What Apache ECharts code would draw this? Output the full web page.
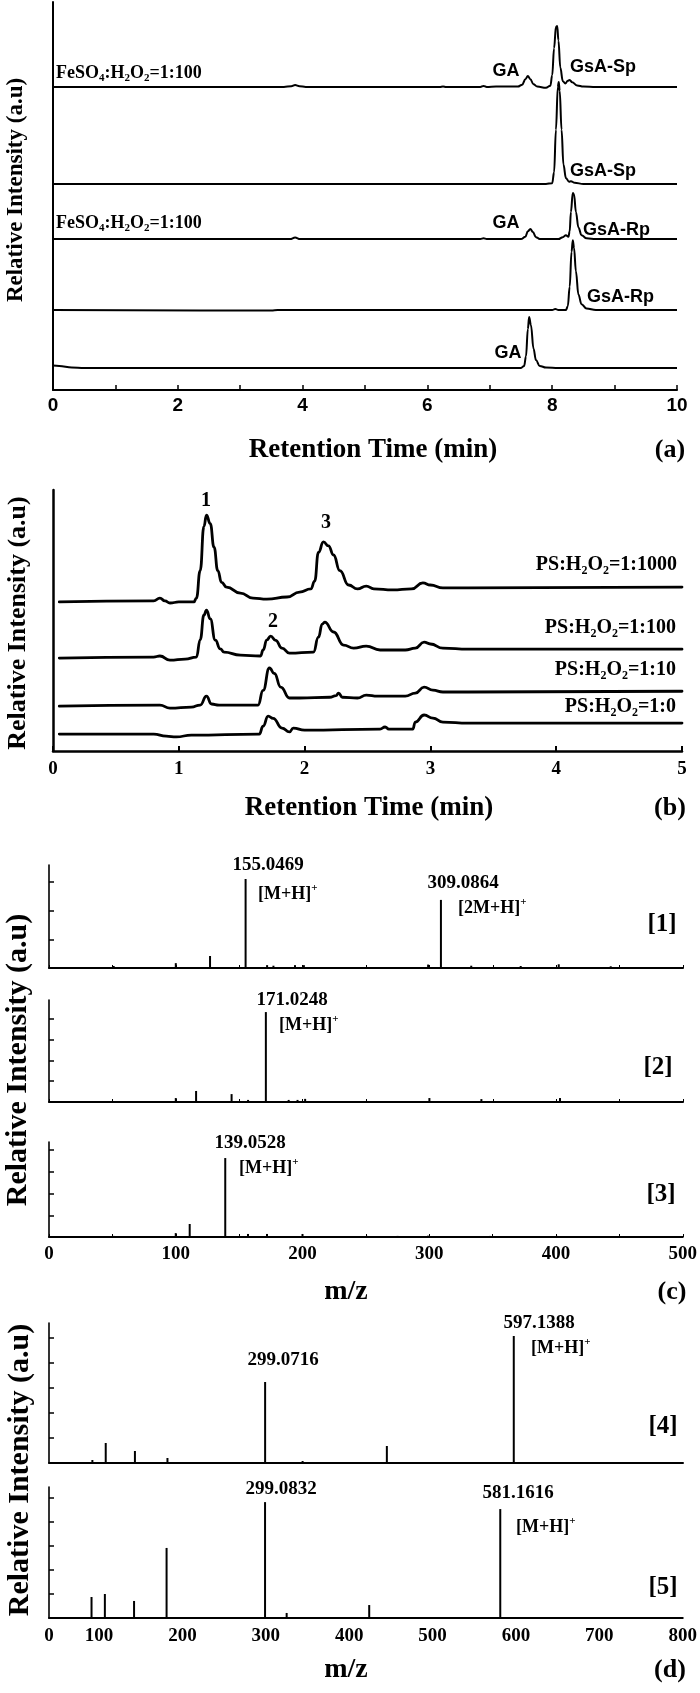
<!DOCTYPE html>
<html><head><meta charset="utf-8">
<script src="https://cdn.jsdelivr.net/npm/echarts@6/dist/echarts.min.js"></script>
<style>html,body{margin:0;padding:0;background:#fff}#c{width:700px;height:1693px}</style>
</head><body><div id="c"></div>
<script>
// ---------- Panel (a): chromatograms, [time(min), intensity above own baseline]
const aOffsets = [78.1, 53.1, 38.9, 20.6, 5.7];
const aTrace1 = [[0,0],[3.7,0],[3.82,0.2],[3.88,0.5],[3.95,0.2],[4.05,0],[6.2,0],[6.25,0.15],[6.3,0],[6.85,0],[6.9,0.25],[6.95,0],[7.1,0.1],[7.45,0.1],[7.52,0.6],[7.57,2.0],[7.61,2.8],[7.65,2.0],[7.7,0.7],[7.76,0.1],[7.9,-0.2],[7.97,0.3],[8.0,3],[8.03,10],[8.06,15.5],[8.08,15.7],[8.1,12],[8.13,5],[8.17,1.5],[8.21,0.9],[8.25,1.6],[8.28,1.8],[8.32,1.2],[8.4,0.4],[8.5,0.1],[8.7,0],[10,0]];
const aTrace2 = [[0,0],[7.9,0],[8.0,0.2],[8.03,3],[8.06,14],[8.09,25],[8.105,26.3],[8.12,24],[8.15,14],[8.18,5],[8.22,1.5],[8.27,0.6],[8.3,0.7],[8.36,0.3],[8.5,0],[10,0]];
const aTrace3 = [[0,0],[3.8,0],[3.88,0.4],[3.96,0],[6.85,0],[6.9,0.2],[6.95,0],[7.5,0],[7.57,0.6],[7.61,2],[7.65,2.6],[7.69,1.8],[7.74,0.5],[7.8,0],[8.1,0],[8.17,0.5],[8.22,1.0],[8.26,0.6],[8.28,2],[8.3,7],[8.33,11.9],[8.35,11.5],[8.38,7],[8.42,3],[8.47,1],[8.55,0.2],[8.7,0],[10,0]];
const aTrace4 = [[0,0],[3.5,-0.1],[3.6,0],[8.0,0],[8.05,0.3],[8.1,0],[8.22,0],[8.25,1],[8.28,6],[8.31,15],[8.33,18],[8.35,16],[8.38,10],[8.42,4],[8.47,1.5],[8.55,0.4],[8.7,0],[10,0]];
const aTrace5 = [[0,0.6],[0.1,0.5],[0.3,0.1],[0.5,0],[7.5,0],[7.55,0.5],[7.58,3],[7.61,10],[7.63,13.1],[7.66,11],[7.7,5],[7.74,2],[7.8,0.5],[7.9,0.1],[8.1,0],[10,0]];
const aTicks = [0,2,4,6,8,10];

// ---------- Panel (b)
const bOffsets = [57.1, 35.6, 17.2, 6.5];
const bTraceA = [[0.05,0],[0.8,0.4],[0.85,1.5],[0.89,0.4],[0.93,-0.4],[1.0,0],[1.12,0],[1.14,1.5],[1.17,12],[1.2,29],[1.22,33.3],[1.25,30],[1.28,21],[1.31,12],[1.34,7.5],[1.38,5.7],[1.49,3.4],[1.59,1.5],[1.7,1.1],[1.86,1.9],[1.96,3.8],[2.05,5.0],[2.08,8],[2.11,19],[2.15,23],[2.19,21.5],[2.23,18],[2.28,12],[2.35,6.5],[2.42,5.0],[2.49,6.1],[2.55,5.0],[2.7,4.6],[2.85,5.0],[2.94,7.3],[3.0,6.5],[3.1,5.4],[3.3,5.4],[5.0,5.7]];
const bTraceB = [[0.05,0],[0.8,0.4],[0.85,0.8],[0.93,-0.8],[1.05,-0.4],[1.14,0.4],[1.17,7],[1.2,16.5],[1.22,18.4],[1.25,15],[1.29,6.9],[1.33,3.5],[1.36,2.3],[1.49,1.1],[1.65,0.8],[1.67,3.1],[1.7,7],[1.73,8.4],[1.77,6.8],[1.82,3.8],[1.88,1.9],[2.07,2.3],[2.11,8],[2.14,13],[2.16,13.8],[2.23,10],[2.31,5],[2.39,3.8],[2.49,4.6],[2.6,3.1],[2.8,3.1],[2.88,3.8],[2.95,6.1],[3.0,5.4],[3.1,3.8],[3.3,3.4],[5.0,3.4]];
const bTraceC = [[0.05,0],[0.85,0.4],[0.93,-0.8],[1.1,-0.4],[1.17,0.4],[1.22,3.8],[1.26,0.8],[1.32,0.4],[1.63,0.4],[1.67,6],[1.72,14.6],[1.76,12.5],[1.81,7.3],[1.88,3.1],[1.96,3.1],[2.2,3.4],[2.25,4.0],[2.27,5.0],[2.3,3.4],[2.42,3.1],[2.49,4.2],[2.58,3.8],[2.8,3.8],[2.88,5.0],[2.95,7.3],[3.02,6.1],[3.1,5.4],[3.3,5.4],[5.0,5.7]];
const bTraceD = [[0.05,0],[0.8,0],[0.9,-0.8],[0.98,-1.1],[1.1,-0.4],[1.64,0],[1.67,3],[1.71,6.9],[1.75,6.0],[1.82,2.3],[1.88,0.8],[1.91,2.3],[2.0,1.5],[2.6,1.9],[2.64,2.7],[2.67,1.9],[2.86,1.9],[2.88,4.6],[2.95,7.3],[3.02,6.1],[3.1,4.6],[3.3,4.2],[5.0,4.2]];

// ---------- Panel (c): mass spectra [m/z], [intensity]
const c1Mz  = [51, 100, 127, 155.0469, 172, 177, 194, 201, 299, 309.0864, 333, 372, 402, 443];
const c1Int = [0.7, 1.7, 4.2, 31.1, 1.0, 0.8, 1.0, 1.0, 1.2, 23.8, 0.8, 0.7, 1.3, 0.6];
const c2Mz  = [100, 116, 144, 157, 171.0248, 189, 196, 202, 300, 341, 403];
const c2Int = [1.9, 5.3, 3.8, 1.0, 43.2, 1.0, 1.0, 1.5, 1.9, 1.4, 1.9];
const c3Mz  = [51, 100, 111, 139.0528, 157, 172, 200, 251, 275, 299, 348, 401];
const c3Int = [0.5, 1.8, 6.0, 36.4, 1.4, 1.4, 1.4, 0.5, 0.5, 0.6, 0.5, 0.5];
// ---------- Panel (d)
const d4Mz  = [92, 108, 143, 182, 299.0716, 317, 344, 445, 597.1388];
const d4Int = [1.2, 8.0, 4.8, 2.0, 32.4, 0.4, 0.8, 6.8, 50.8];
const d5Mz  = [91, 107, 129, 142, 181, 299.0832, 325, 424, 581.1616];
const d5Int = [8.75, 10.0, 0.4, 7.1, 29.2, 48.3, 2.1, 5.4, 45.4];
const dTickLabels = [100, 200, 300, 400, 500, 600, 700, 800];

// ---------- build
const SERIF = 'Liberation Serif', SANS = 'Liberation Sans';
const chart = echarts.init(document.getElementById('c'), null, {renderer: 'canvas'});

const grids = [
  {left: 53, top: 2, width: 624, height: 388},
  {left: 53, top: 490, width: 629, height: 261},
  {left: 49, top: 865, width: 634, height: 103},
  {left: 49, top: 1000, width: 634, height: 102},
  {left: 49, top: 1142, width: 634, height: 95},
  {left: 49, top: 1323, width: 634, height: 140},
  {left: 49, top: 1487, width: 634, height: 131}
];

const lbl = (fam, size, extra) => Object.assign({color: '#000', fontFamily: fam, fontWeight: 'bold', fontSize: size}, extra || {});
const xAxes = [
  {gridIndex: 0, type: 'value', min: 0, max: 10, interval: 1,
   axisLine: {onZero: false, lineStyle: {color: '#000', width: 2}},
   axisTick: {inside: true, length: 5, lineStyle: {color: '#000', width: 1.5}},
   axisLabel: lbl(SANS, 19, {margin: 6, formatter: v => aTicks.includes(v) ? String(v) : ''}),
   splitLine: {show: false}},
  {gridIndex: 1, type: 'value', min: 0, max: 5, interval: 1,
   axisLine: {onZero: false, lineStyle: {color: '#000', width: 2.5}},
   axisTick: {inside: true, length: 5, lineStyle: {color: '#000', width: 2}},
   axisLabel: lbl(SERIF, 19, {margin: 9}), splitLine: {show: false}}
];
[2,3,4].forEach(g => xAxes.push({gridIndex: g, type: 'value', min: 0, max: 500, interval: 50,
   axisLine: {onZero: false, lineStyle: {color: '#000', width: 2}},
   axisTick: {inside: true, length: 3, lineStyle: {color: '#000', width: 1}},
   axisLabel: lbl(SERIF, 19, {show: g === 4, margin: 8, formatter: v => v % 100 === 0 ? String(v) : ''}),
   splitLine: {show: false}}));
[5,6].forEach(g => xAxes.push({gridIndex: g, type: 'value', min: 40, max: 800,
   axisLine: {onZero: false, lineStyle: {color: '#000', width: 2}},
   axisTick: {show: false},
   axisLabel: lbl(SERIF, 19, {show: g === 6, margin: 9, customValues: [40].concat(dTickLabels), formatter: v => v === 40 ? '0' : String(v)}),
   splitLine: {show: false}}));

const yMax = [100, 100, 36, 49, 43.8, 56, 54.6];
const yTicks = [null, null, [10,20,30], [10,20,30,40], [10,20,30,40], [10,20,30,40,50], [10,20,30,40,50]];
const yAxes = yMax.map((m, g) => ({gridIndex: g, type: 'value', min: 0, max: m,
   axisLine: {show: true, onZero: false, lineStyle: {color: '#000', width: g === 1 ? 2.5 : (g === 0 ? 2 : 1.6)}},
   axisTick: yTicks[g] ? {show: true, inside: true, length: 5, customValues: yTicks[g], lineStyle: {color: '#000', width: 1.5}} : {show: false},
   axisLabel: {show: false}, splitLine: {show: false}}));

const series = [];
[aTrace1, aTrace2, aTrace3, aTrace4, aTrace5].forEach((tr, i) => series.push({
  type: 'line', xAxisIndex: 0, yAxisIndex: 0, showSymbol: false, smooth: 0.4, smoothMonotone: 'x',
  lineStyle: {color: '#000', width: 2}, data: tr.map(p => [p[0], aOffsets[i] + p[1]]), animation: false}));
[bTraceA, bTraceB, bTraceC, bTraceD].forEach((tr, i) => series.push({
  type: 'line', xAxisIndex: 1, yAxisIndex: 1, showSymbol: false, smooth: 0.5, smoothMonotone: 'x',
  lineStyle: {color: '#000', width: 2.8, join: 'round', cap: 'round'}, data: tr.map(p => [p[0], bOffsets[i] + p[1]]), animation: false}));
[[c1Mz,c1Int],[c2Mz,c2Int],[c3Mz,c3Int],[d4Mz,d4Int],[d5Mz,d5Int]].forEach((s, k) => series.push({
  type: 'bar', xAxisIndex: k + 2, yAxisIndex: k + 2, barWidth: 2, itemStyle: {color: '#000'},
  data: s[0].map((x, j) => [x, s[1][j]]), animation: false}));

// ---------- text
const R = (size, fam) => ({
  m: {fontFamily: fam, fontWeight: 'bold', fontSize: size, lineHeight: size + 4, fill: '#000'},
  s: {fontFamily: fam, fontWeight: 'bold', fontSize: Math.round(size * 0.62), lineHeight: Math.round(size * 0.62), verticalAlign: 'bottom', fill: '#000'},
  p: {fontFamily: fam, fontWeight: 'bold', fontSize: Math.round(size * 0.62), lineHeight: Math.round(size * 0.62), verticalAlign: 'top', fill: '#000'}
});
function T(x, y, text, size, fam, align, rot) {
  return {type: 'text', x: x, y: y, rotation: rot || 0, silent: true,
    style: {text: text, fill: '#000', font: 'bold ' + size + 'px "' + fam + '"', align: align || 'center', verticalAlign: 'middle', rich: R(size, fam)}};
}
const fe = '{m|FeSO}{s|4}{m|:H}{s|2}{m|O}{s|2}{m|=1:100}';
const ps = r => '{m|PS:H}{s|2}{m|O}{s|2}{m|=' + r + '}';
const mh = '{m|[M+H]}{p|+}';
const graphics = [
  // (a)
  T(16, 190, 'Relative Intensity (a.u)', 23, SERIF, 'center', Math.PI / 2),
  T(56, 73, fe, 18, SERIF, 'left'),
  T(506, 71, 'GA', 18, SANS),
  T(570, 67, 'GsA-Sp', 18, SANS, 'left'),
  T(570, 171, 'GsA-Sp', 18, SANS, 'left'),
  T(56, 223, fe, 18, SERIF, 'left'),
  T(506, 223, 'GA', 18, SANS),
  T(583, 230, 'GsA-Rp', 18, SANS, 'left'),
  T(587, 297, 'GsA-Rp', 18, SANS, 'left'),
  T(508, 353, 'GA', 18, SANS),
  T(373, 450, 'Retention Time (min)', 27, SERIF),
  T(670, 450, '(a)', 26, SERIF),
  // (b)
  T(18, 623, 'Relative Intensity (a.u)', 26, SERIF, 'center', Math.PI / 2),
  T(206, 501, '1', 20, SERIF), T(326, 523, '3', 20, SERIF), T(273, 622, '2', 20, SERIF),
  T(677, 565, ps('1:1000'), 20, SERIF, 'right'),
  T(676, 628, ps('1:100'), 20, SERIF, 'right'),
  T(676, 670, ps('1:10'), 20, SERIF, 'right'),
  T(676, 707, ps('1:0'), 20, SERIF, 'right'),
  T(369, 808, 'Retention Time (min)', 27, SERIF),
  T(670, 808, '(b)', 26, SERIF),
  // (c)
  T(18, 1060, 'Relative Intensity (a.u)', 30, SERIF, 'center', Math.PI / 2),
  T(268, 865, '155.0469', 19, SERIF), T(258, 894, mh, 18, SERIF, 'left'),
  T(463, 883, '309.0864', 19, SERIF), T(458, 908, '{m|[2M+H]}{p|+}', 18, SERIF, 'left'),
  T(662, 925, '[1]', 25, SERIF),
  T(292, 1000, '171.0248', 19, SERIF), T(279, 1025, mh, 18, SERIF, 'left'),
  T(658, 1068, '[2]', 25, SERIF),
  T(250, 1143, '139.0528', 19, SERIF), T(239, 1168, mh, 18, SERIF, 'left'),
  T(661, 1195, '[3]', 25, SERIF),
  T(346, 1292, 'm/z', 28, SERIF), T(672, 1292, '(c)', 26, SERIF),
  // (d)
  T(20, 1470, 'Relative Intensity (a.u)', 30, SERIF, 'center', Math.PI / 2),
  T(539, 1323, '597.1388', 19, SERIF), T(531, 1348, mh, 18, SERIF, 'left'),
  T(283, 1360, '299.0716', 19, SERIF),
  T(663, 1427, '[4]', 25, SERIF),
  T(281, 1489, '299.0832', 19, SERIF), T(518, 1493, '581.1616', 19, SERIF),
  T(516, 1527, mh, 18, SERIF, 'left'),
  T(663, 1588, '[5]', 25, SERIF),
  T(346, 1670, 'm/z', 28, SERIF), T(670, 1670, '(d)', 26, SERIF)
];

chart.setOption({
  animation: false, backgroundColor: '#fff',
  grid: grids, xAxis: xAxes, yAxis: yAxes, series: series, graphic: graphics
});
</script></body></html>
